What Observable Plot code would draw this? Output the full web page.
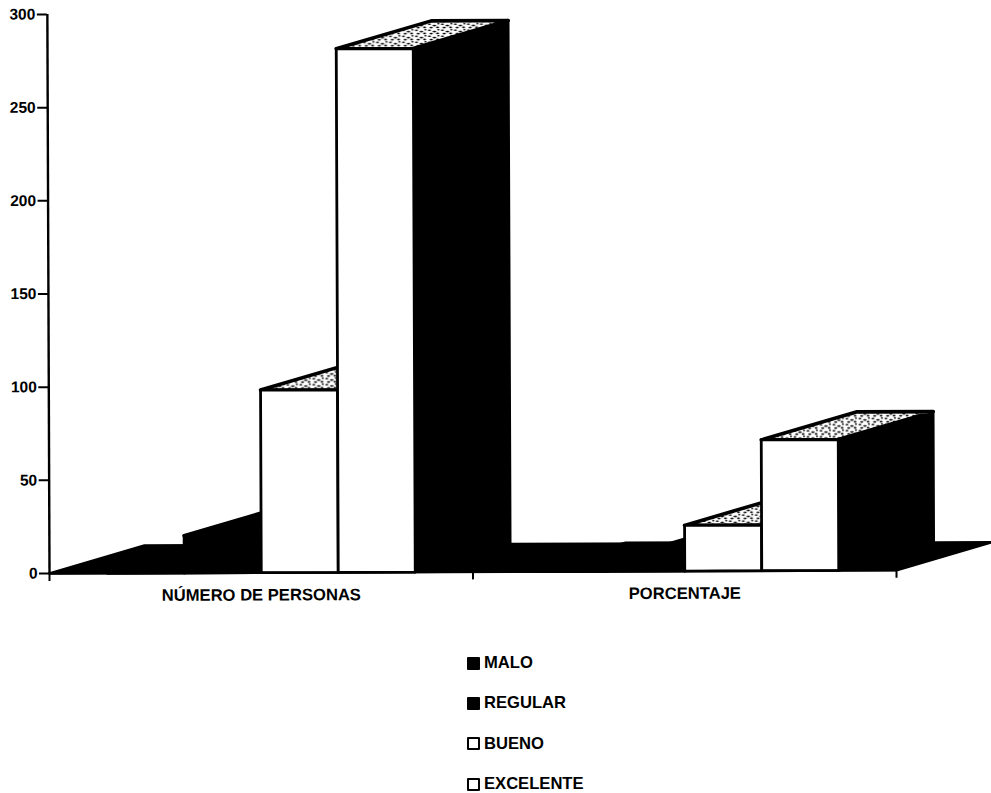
<!DOCTYPE html>
<html lang="es">
<head>
<meta charset="utf-8">
<script src="https://cdn.jsdelivr.net/npm/d3@7"></script>
<script src="https://cdn.jsdelivr.net/npm/@observablehq/plot@0.6"></script>
<style>
  html, body { margin: 0; padding: 0; background: #fff; }
  #chart svg { display: block; overflow: visible; }
  #legend { padding: 3px 0 0 467px; font: bold 16.6px "Liberation Sans", Arial, sans-serif; color: #000; }
  .row { height: 40.3px; display: flex; align-items: center; gap: 4px; }
  .swatch { width: 9px; height: 9px; border: 2px solid #000; border-radius: 1px; }
</style>
</head>
<body>
<div id="chart"></div>
<div id="legend"></div>
<script>
// Encuesta de satisfacción: respuestas por categoría, en personas y en porcentaje.
const groups = ["NÚMERO DE PERSONAS", "PORCENTAJE"];
const series = ["MALO", "REGULAR", "BUENO", "EXCELENTE"];
const personas = [1, 20, 98, 281];
const porcentaje = [0.25, 5, 24.5, 70.25];
const frontFill = ["#000", "#000", "#fff", "#fff"];
const topFill = ["#000", "#000", "url(#stipple)", "url(#stipple)"];
const yTicks = [0, 50, 100, 150, 200, 250, 300];

// Proyección oblicua: cada barra tiene un fondo expresado en unidades de los ejes.
const barWidth = 2 / 11;
const groupGap = 3 / 22;
const depthX = 0.2245;
const depthY = 14.8;

const faces = [];
function addFace(id, fill, weight, corners) {
  for (const [x, y] of [...corners, corners[0]]) faces.push({id, fill, weight, x, y});
}

addFace("suelo", "#000", 2.6, [[0, 0], [groups.length, 0], [groups.length + depthX, depthY], [depthX, depthY]]);

[personas, porcentaje].forEach((values, g) => {
  values.forEach((v, s) => {
    const x1 = g + groupGap + s * barWidth;
    const x2 = x1 + barWidth;
    const key = `${g}-${s}`;
    addFace(`lado-${key}`, "#000", 2.6, [[x2, 0], [x2 + depthX, depthY], [x2 + depthX, v + depthY], [x2, v]]);
    addFace(`tapa-${key}`, topFill[s], 3.6, [[x1, v], [x2, v], [x2 + depthX, v + depthY], [x1 + depthX, v + depthY]]);
    addFace(`frente-${key}`, frontFill[s], 2.8, [[x1, 0], [x2, 0], [x2, v], [x1, v]]);
  });
});

// Punteado de las tapas superiores.
const stippleDefs = () => {
  const defs = d3.create("svg:defs");
  const p = defs.append("pattern")
    .attr("id", "stipple").attr("patternUnits", "userSpaceOnUse")
    .attr("width", 13).attr("height", 6);
  p.append("rect").attr("width", 13).attr("height", 6).attr("fill", "#fff");
  for (const [cx, cy, rx] of [[2, 1.2, 1.6], [7, 2.6, 1.9], [11, 0.8, 1.2], [3.8, 4.6, 1.7], [10.2, 4.4, 1.5]]) {
    p.append("ellipse").attr("cx", cx).attr("cy", cy).attr("rx", rx).attr("ry", 0.8).attr("fill", "#000");
  }
  return defs.node();
};

const chart = Plot.plot({
  width: 991,
  height: 640,
  marginLeft: 49,
  marginRight: 95,
  marginTop: 14,
  marginBottom: 67,
  style: {
    fontFamily: '"Liberation Sans", Arial, sans-serif',
    fontWeight: "bold",
    fontSize: "16.6px",
    color: "#000",
    background: "transparent",
    transform: "rotate(-0.22deg)",
    transformOrigin: "49px 573px"
  },
  x: {domain: [0, groups.length]},
  y: {domain: [0, 300]},
  color: {type: "identity"},
  marks: [
    stippleDefs,
    Plot.line(faces, {x: "x", y: "y", z: "id", fill: "fill", stroke: "#000", strokeWidth: "weight"}),
    Plot.ruleX([0], {stroke: "#000", strokeWidth: 2.4}),
    Plot.ruleY([0], {stroke: "#000", strokeWidth: 2}),
    Plot.axisY({ticks: yTicks, tickSize: 10, tickPadding: 2, fontSize: 15.5, strokeWidth: 2, label: null}),
    Plot.axisX({ticks: d3.range(groups.length + 1), tickSize: 8, tickFormat: () => "", strokeWidth: 2, label: null}),
    Plot.axisX({
      ticks: groups.map((_, i) => i + 0.5),
      tickSize: 0,
      tickPadding: 16,
      tickFormat: d => groups[Math.floor(d)],
      label: null
    })
  ]
});
document.getElementById("chart").append(chart);

// Leyenda vertical bajo el gráfico.
const legend = d3.select("#legend");
series.forEach((name, i) => {
  const row = legend.append("div").attr("class", "row");
  row.append("span").attr("class", "swatch").style("background", frontFill[i]);
  row.append("span").text(name);
});
</script>
</body>
</html>
